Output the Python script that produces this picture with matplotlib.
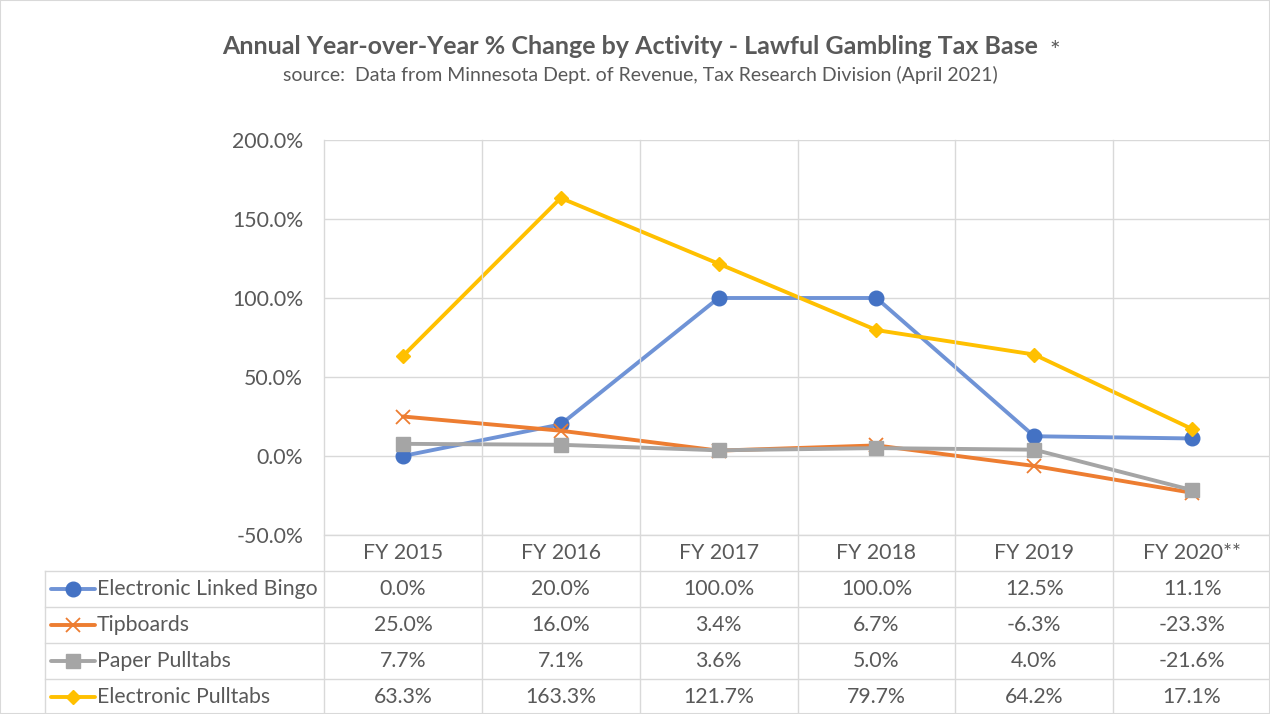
import matplotlib

matplotlib.use("Agg")

import matplotlib.pyplot as plt
from matplotlib.lines import Line2D

plt.rcParams["font.family"] = ["Lato", "DejaVu Sans"]

years = ["FY 2015", "FY 2016", "FY 2017", "FY 2018", "FY 2019", "FY 2020**"]
series_names = ["Electronic Linked Bingo", "Tipboards", "Paper Pulltabs", "Electronic Pulltabs"]
bingo = [0.0, 20.0, 100.0, 100.0, 12.5, 11.1]
tipboards = [25.0, 16.0, 3.4, 6.7, -6.3, -23.3]
paper = [7.7, 7.1, 3.6, 5.0, 4.0, -21.6]
e_pulltabs = [63.3, 163.3, 121.7, 79.7, 64.2, 17.1]
yticks = [-50, 0, 50, 100, 150, 200]

TEXT = "#595959"
GRID = "#D9D9D9"
W, H = 1270, 714
FS = 15.3


def fx(px):
    return px / W


def fy(py):
    return 1 - py / H


line_colors = ["#6F93D6", "#ED7D31", "#A5A5A5", "#FFC000"]
markers = [
    dict(marker="o", mfc="#4472C4", mec="#4472C4", ms=10.5),
    dict(marker="x", mfc="#ED7D31", mec="#ED7D31", ms=10, mew=1.3),
    dict(marker="s", mfc="#A5A5A5", mec="#A5A5A5", ms=9.5),
    dict(marker="D", mfc="#FFC000", mec="#FFC000", ms=7.5),
]
data = [bingo, tipboards, paper, e_pulltabs]

fig = plt.figure(figsize=(12.7, 7.14), dpi=100)
left, right, top, bottom = 324, 1271, 140, 535
ax = fig.add_axes([fx(left), fy(bottom), fx(right - left), fy(top) - fy(bottom)])
x = list(range(len(years)))
for vals, col, mk in zip(data, line_colors, markers):
    ax.plot(x, vals, color=col, lw=2.8, solid_capstyle="round", zorder=3, **mk)

ax.set_xlim(-0.5, len(years) - 0.5)
ax.set_ylim(-50, 200)
ax.set_yticks(yticks)
ax.set_yticklabels([f"{v:.1f}%" for v in yticks], color=TEXT, fontsize=FS)
ax.tick_params(axis="y", length=0, pad=15)
ax.set_xticks([])
for v in yticks:
    ax.axhline(v, color=GRID, lw=1, zorder=1)
for spine in ax.spines.values():
    spine.set_visible(False)

# category boundaries
col_w = (right - left) / len(years)
bounds = [left + i * col_w for i in range(len(years) + 1)]
for b in bounds[:-1]:
    fig.add_artist(Line2D([fx(b), fx(b)], [fy(top), fy(H)], color=GRID, lw=1))

# data table
row_tops = [535, 571, 607, 643, 679, 715]
tab_left = 45
fig.add_artist(Line2D([fx(left), fx(W)], [fy(535), fy(535)], color=GRID, lw=1))
for ry in row_tops[1:-1]:
    fig.add_artist(Line2D([fx(tab_left), fx(W)], [fy(ry), fy(ry)], color=GRID, lw=1))
fig.add_artist(Line2D([fx(tab_left), fx(tab_left)], [fy(571), fy(H)], color=GRID, lw=1))

for i, yr in enumerate(years):
    cx = (bounds[i] + bounds[i + 1]) / 2
    fig.text(fx(cx), fy((row_tops[0] + row_tops[1]) / 2), yr, ha="center", va="center",
             color=TEXT, fontsize=FS)

for r, (name, vals, col, mk) in enumerate(zip(series_names, data, line_colors, markers)):
    cy = (row_tops[r + 1] + row_tops[r + 2]) / 2
    fig.add_artist(Line2D([fx(51), fx(95)], [fy(cy), fy(cy)], color=col, lw=2.8,
                          solid_capstyle="round"))
    fig.add_artist(Line2D([fx(73)], [fy(cy)], lw=0, **mk))
    fig.text(fx(97), fy(cy), name, ha="left", va="center", color=TEXT, fontsize=FS)
    for i, v in enumerate(vals):
        cx = (bounds[i] + bounds[i + 1]) / 2
        fig.text(fx(cx), fy(cy), f"{v:.1f}%", ha="center", va="center", color=TEXT, fontsize=FS)

fig.text(fx(630), fy(46), "Annual Year-over-Year % Change by Activity - Lawful Gambling Tax Base",
         ha="center", va="center", color=TEXT, fontsize=18, fontweight="bold")
fig.text(fx(1049), fy(52), "*", ha="left", va="center", color=TEXT, fontsize=18)
fig.text(fx(640), fy(75), "source:  Data from Minnesota Dept. of Revenue, Tax Research Division (April 2021)",
         ha="center", va="center", color=TEXT, fontsize=14)

fig.add_artist(plt.Rectangle((0, 0), 1, 1, transform=fig.transFigure, fill=False,
                             edgecolor=GRID, lw=1.5))

fig.savefig("out.png", dpi=100)
